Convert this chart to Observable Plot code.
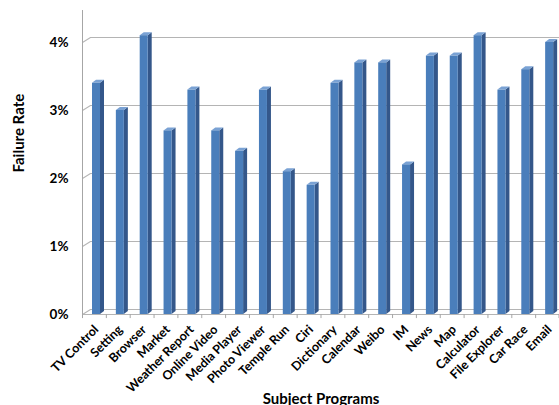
<!DOCTYPE html>
<html>
<head>
<meta charset="utf-8">
<script src="https://cdn.jsdelivr.net/npm/d3@7"></script>
<script src="https://cdn.jsdelivr.net/npm/@observablehq/plot@0.6"></script>
<style>
  html, body { margin: 0; padding: 0; background: #fff; }
  #chart svg { display: block; }
</style>
</head>
<body>
<div id="chart"></div>
<script>
const programs = ["TV Control", "Setting", "Browser", "Market", "Weather Report", "Online Video",
  "Media Player", "Photo Viewer", "Temple Run", "Ciri", "Dictionary", "Calendar", "Weibo", "IM",
  "News", "Map", "Calculator", "File Explorer", "Car Race", "Email"];
const failureRate = [3.4, 3.0, 4.1, 2.7, 3.3, 2.7, 2.4, 3.3, 2.1, 1.9, 3.4, 3.7, 3.7, 2.2, 3.8, 3.8, 4.1, 3.3, 3.6, 4.0];
const yTicks = [0, 1, 2, 3, 4];
const yLabel = "Failure Rate";
const xLabel = "Subject Programs";

const data = programs.map((name, i) => ({name, value: failureRate[i]}));

const W = 559, H = 405;
const mLeft = 82, mRight = 0, mTop = 8, mBottom = 91;
const band = (W - mLeft - mRight) / programs.length;
const depthX = 4, depthY = 3;

function prism(index, scales, values, dims, ctx, next) {
  const g = next(index, scales, values, dims, ctx);
  const rects = Array.from(g.querySelectorAll("rect"));
  const ns = "http://www.w3.org/2000/svg";
  for (const r of rects) {
    const x = +r.getAttribute("x"), y = +r.getAttribute("y");
    const w = +r.getAttribute("width"), h = +r.getAttribute("height");
    const side = document.createElementNS(ns, "path");
    side.setAttribute("d", `M${x + w},${y}L${x + w + depthX},${y - depthY}L${x + w + depthX},${y + h - depthY}L${x + w},${y + h}Z`);
    side.setAttribute("fill", "#34578a");
    const top = document.createElementNS(ns, "path");
    top.setAttribute("d", `M${x},${y}L${x + depthX},${y - depthY}L${x + w + depthX},${y - depthY}L${x + w},${y}Z`);
    top.setAttribute("fill", "#7aa2d4");
    g.insertBefore(side, r);
    g.insertBefore(top, r);
  }
  return g;
}

const gridColor = "#b4b4b4";

const chart = Plot.plot({
  width: W,
  height: H,
  marginLeft: mLeft,
  marginRight: mRight,
  marginTop: mTop,
  marginBottom: mBottom,
  style: {fontFamily: "Lato, 'Open Sans', sans-serif", fontWeight: "bold", color: "#000", background: "#fff"},
  x: {domain: programs, padding: 0, round: false, axis: null},
  y: {domain: [0, 4.5], axis: null},
  marks: [
    // back wall gridlines
    Plot.ruleY(yTicks, {y: d => d, dx: 8, dy: -5, stroke: gridColor, strokeWidth: 1}),
    // side wall slanted gridlines
    Plot.vector(yTicks, {y: d => d, frameAnchor: "left", length: 9.4, rotate: 58, anchor: "start",
      stroke: gridColor, strokeWidth: 1,
      shape: {draw(context, l) { context.moveTo(0, 0); context.lineTo(0, -l); }}}),
    // front floor line
    Plot.ruleY([0], {stroke: gridColor, strokeWidth: 1}),
    // vertical axis line
    Plot.ruleX([programs[0]], {x: d => d, dx: -band / 2, y1: 0, y2: 4.47, stroke: "#a6a6a6", strokeWidth: 1}),
    // category boundary ticks
    Plot.ruleX(programs, {x: d => d, dx: -band / 2, y1: 0, y2: -0.06, stroke: "#a6a6a6", strokeWidth: 1}),
    Plot.ruleX([programs[programs.length - 1]], {x: d => d, dx: band / 2 - 0.5, y1: 0, y2: -0.06, stroke: "#a6a6a6", strokeWidth: 1}),
    // bars
    Plot.barY(data, {x: "name", y: "value", insetLeft: 10, insetRight: band - 18, fill: "#4a7ebb", render: prism}),
    // y tick labels
    Plot.text(yTicks, {y: d => d, text: d => d + "%", frameAnchor: "left", textAnchor: "end", dx: -14, fontSize: 13.5, fontWeight: "bold"}),
    // x tick labels
    Plot.text(programs, {x: d => d, frameAnchor: "bottom", text: d => d, rotate: -45, textAnchor: "end",
      lineAnchor: "middle", dx: 2, dy: 13, fontSize: 12.5, fontWeight: "bold"}),
    // axis titles
    Plot.text([yLabel], {frameAnchor: "left", text: d => d, rotate: -90, dx: -63, dy: 11, fontSize: 15, fontWeight: "bold"}),
    Plot.text([xLabel], {frameAnchor: "bottom", text: d => d, dy: 89, fontSize: 15, fontWeight: "bold"})
  ]
});

document.getElementById("chart").appendChild(chart);
</script>
</body>
</html>
